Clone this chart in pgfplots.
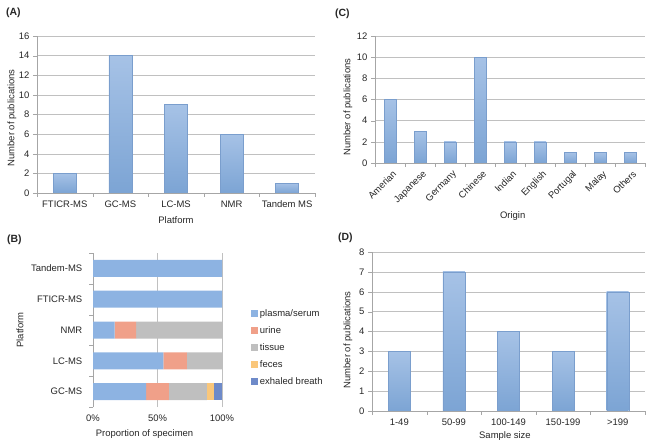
\documentclass[border=0pt]{standalone}
\usepackage{fontspec}
\setmainfont{Liberation Sans}
\usepackage{pgfplots}
\pgfplotsset{compat=1.18}
\definecolor{barTop}{HTML}{A6C2E6}
\definecolor{barBot}{HTML}{7CA4D4}
\definecolor{barEdge}{HTML}{7A9ECD}
\definecolor{gridc}{HTML}{C0C0C0}
\definecolor{axisc}{HTML}{A6A6A6}
\definecolor{txt}{HTML}{262626}
\definecolor{cPlasma}{HTML}{8DB3E2}
\definecolor{cUrine}{HTML}{F0A089}
\definecolor{cTissue}{HTML}{BFBFBF}
\definecolor{cFeces}{HTML}{FAC77B}
\definecolor{cBreath}{HTML}{6E8AC9}
\pgfplotsset{
  panel/.style={
    scale only axis,
    anchor=south west,
    font=\fontsize{9.5}{11}\selectfont,
    /pgf/number format/assume math mode=true,
    axis lines*=left,
    axis line style={draw=axisc},
    tick align=outside,
    major tick length=4bp,
    minor tick length=4bp,
    tick style={draw=axisc},
    ymajorgrids,
    major grid style={draw=gridc},
    every major x tick/.append style={draw=none},
    ymin=0,
    ticklabel style={text=txt},
    label style={text=txt},
    ylabel={Number of publications},
  },
  vbar/.style={ybar, bar shift=0pt, draw=barEdge, line width=0.4bp, top color=barTop, bottom color=barBot},
  sbar/.style={fill=#1, draw=none, legend image code/.code={\fill[#1] (0bp,-3.5bp) rectangle (7bp,3.5bp);}},
}
\begin{document}
\begin{tikzpicture}
\path[use as bounding box] (0,0) rectangle (650bp,447bp);
% (A)
\begin{axis}[panel, at={(37bp,254bp)}, width=278bp, height=157bp,
  ymax=16, ytick={0,2,...,16},
  xmin=-0.5, xmax=4.5, xtick={0,...,4}, minor xtick={-0.5,0.5,...,4.5},
  xticklabels={FTICR-MS,GC-MS,LC-MS,NMR,Tandem MS},
  xlabel={Platform},
  xlabel style={at={(axis description cs:0.5,-0.172)}, anchor=center},
  ylabel style={at={(axis description cs:-0.09,0.478)}, anchor=center},
  bar width=23bp]
\addplot[vbar] coordinates {(0,2)};
\addplot[vbar] coordinates {(1,14)};
\addplot[vbar] coordinates {(2,9)};
\addplot[vbar] coordinates {(3,6)};
\addplot[vbar] coordinates {(4,1)};
\end{axis}
% (C)
\begin{axis}[panel, at={(375bp,284bp)}, width=270bp, height=127bp,
  ymax=12, ytick={0,2,...,12},
  xmin=-0.5, xmax=8.5, xtick={0,...,8}, minor xtick={-0.5,0.5,...,8.5},
  xticklabels={Amerian,Japanese,Germany,Chinese,Indian,English,Portugal,Malay,Others},
  xticklabel style={rotate=45, anchor=north east, xshift=3bp},
  xlabel={Origin},
  xlabel style={at={(axis description cs:0.51,-0.417)}, anchor=center},
  ylabel style={at={(axis description cs:-0.1,0.44)}, anchor=center},
  bar width=12bp]
\addplot[vbar] coordinates {(0,6)};
\addplot[vbar] coordinates {(1,3)};
\addplot[vbar] coordinates {(2,2)};
\addplot[vbar] coordinates {(3,10)};
\addplot[vbar] coordinates {(4,2)};
\addplot[vbar] coordinates {(5,2)};
\addplot[vbar] coordinates {(6,1)};
\addplot[vbar] coordinates {(7,1)};
\addplot[vbar] coordinates {(8,1)};
\end{axis}
% (D)
\begin{axis}[panel, at={(372bp,36bp)}, width=273bp, height=159bp,
  ymax=8, ytick={0,1,...,8},
  xmin=-0.5, xmax=4.5, xtick={0,...,4}, minor xtick={-0.5,0.5,...,4.5},
  xticklabels={1-49,50-99,100-149,150-199,>199},
  xlabel={Sample size},
  xlabel style={at={(axis description cs:0.487,-0.157)}, anchor=center},
  ylabel style={at={(axis description cs:-0.088,0.447)}, anchor=center},
  bar width=22bp]
\addplot[vbar] coordinates {(0,3)};
\addplot[vbar] coordinates {(1,7)};
\addplot[vbar] coordinates {(2,4)};
\addplot[vbar] coordinates {(3,3)};
\addplot[vbar] coordinates {(4,6)};
\end{axis}
% (B)
\begin{axis}[scale only axis, anchor=south west, at={(93bp,40bp)}, width=129bp, height=154bp,
  font=\fontsize{9.5}{11}\selectfont,
  /pgf/number format/assume math mode=true,
  xbar stacked, bar width=17bp,
  xmin=0, xmax=100, xtick={0,50,100}, xticklabels={0\%,50\%,100\%},
  ymin=-0.5, ymax=4.5, ytick={0,...,4},
  yticklabels={GC-MS,LC-MS,NMR,FTICR-MS,Tandem-MS},
  yticklabel style={xshift=-3bp},
  minor ytick={-0.5,0.5,...,4.5},
  axis lines*=left, x axis line style={draw=none}, y axis line style={draw=axisc},
  xmajorgrids, major grid style={draw=gridc},
  every major tick/.append style={draw=none},
  every minor tick/.append style={draw=axisc},
  tick align=outside, minor tick length=4bp,
  ticklabel style={text=txt}, label style={text=txt},
  xlabel={Proportion of specimen}, ylabel={Platform},
  xlabel style={at={(axis description cs:0.40,-0.175)}, anchor=center},
  ylabel style={at={(axis description cs:-0.566,0.5)}, anchor=center},
  legend style={at={(axis description cs:1.2,0.662)}, anchor=north west, draw=none, fill=none,
    font=\fontsize{9.5}{11}\selectfont, row sep=4.8bp, text=txt},
  legend cell align=left]
\addplot[sbar=cPlasma] coordinates {(41.18,0) (54.55,1) (16.67,2) (100,3) (100,4)};
\addplot[sbar=cUrine] coordinates {(17.65,0) (18.18,1) (16.67,2) (0,3) (0,4)};
\addplot[sbar=cTissue] coordinates {(29.41,0) (27.27,1) (66.66,2) (0,3) (0,4)};
\addplot[sbar=cFeces] coordinates {(5.88,0) (0,1) (0,2) (0,3) (0,4)};
\addplot[sbar=cBreath] coordinates {(5.88,0) (0,1) (0,2) (0,3) (0,4)};
\legend{plasma/serum,urine,tissue,feces,exhaled breath}
\end{axis}
\node[anchor=west, inner sep=0, font=\fontsize{10.5}{12}\selectfont\bfseries, text=txt] at (6bp,434.5bp) {(A)};
\node[anchor=west, inner sep=0, font=\fontsize{10.5}{12}\selectfont\bfseries, text=txt] at (335bp,433bp) {(C)};
\node[anchor=west, inner sep=0, font=\fontsize{10.5}{12}\selectfont\bfseries, text=txt] at (7bp,207bp) {(B)};
\node[anchor=west, inner sep=0, font=\fontsize{10.5}{12}\selectfont\bfseries, text=txt] at (338bp,209bp) {(D)};
\end{tikzpicture}
\end{document}
